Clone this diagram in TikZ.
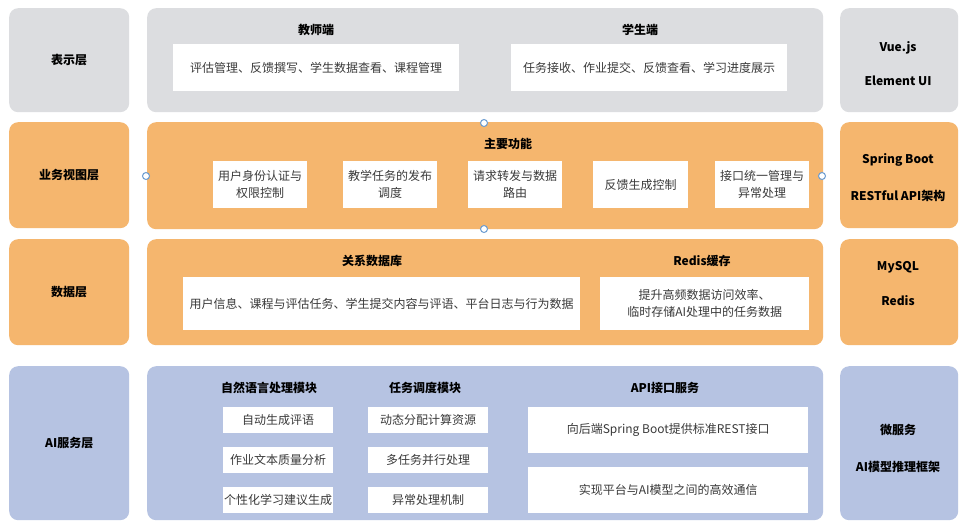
\documentclass[tikz,border=0pt]{standalone}
\usepackage{fontspec}
\setmainfont{Noto Sans CJK SC}
\definecolor{pgray}{HTML}{DCDDE0}
\definecolor{porange}{HTML}{F5B66E}
\definecolor{pblue}{HTML}{B6C3E2}
\definecolor{txt}{HTML}{3A3A3A}
\definecolor{hblue}{HTML}{6A9BD0}
\tikzset{
  panel/.style={rounded corners=9pt, inner sep=0pt, anchor=north west, align=center,
    font=\bfseries\fontsize{12}{16}\selectfont, text=black},
  sz/.style 2 args={minimum width=#1pt, minimum height=#2pt},
  wbox/.style={fill=white, inner sep=0pt, anchor=north west, align=center,
    font=\fontsize{12}{17}\selectfont, text=txt},
  ttl/.style={font=\bfseries\fontsize{12}{16}\selectfont, text=black, inner sep=0pt},
  handle/.style={circle, draw=hblue, fill=white, line width=1pt, inner sep=0pt, minimum size=7pt},
}
\begin{document}
\begin{tikzpicture}[x=1pt,y=-1pt]
\fill[white] (0,0) rectangle (963,522);
\useasboundingbox (0,0) rectangle (963,522);

% ---------- Row 1: presentation layer ----------
\node[panel, fill=pgray, sz={120}{104}] (l1) at (9,8) {表示层};
\node[panel, fill=pgray, sz={676}{104}] (m1) at (147,8) {};
\node[panel, fill=pgray, sz={118}{104}] (r1) at (840,8) {};
\node[ttl] (t1a) at (316,30) {教师端};
\node[ttl] (t1b) at (640,30) {学生端};
\node[wbox, sz={286}{47}] (b1a) at (173,44) {评估管理、反馈撰写、学生数据查看、课程管理};
\node[wbox, sz={276}{47}] (b1b) at (511,44) {任务接收、作业提交、反馈查看、学习进度展示};
\node[ttl] (r1a) at (898,48) {Vue.js};
\node[ttl] (r1b) at (898,81) {Element UI};

% ---------- Row 2: business view layer ----------
\node[panel, fill=porange, sz={120}{106}] (l2) at (9,122) {业务视图层};
\node[panel, fill=porange, sz={676}{107}] (m2) at (147,122) {};
\node[panel, fill=porange, sz={118}{106}] (r2) at (840,122) {};
\node[ttl] (t2) at (508,144) {主要功能};
\node[wbox, sz={94}{47}] (b2a) at (213,161) {用户身份认证与\\权限控制};
\node[wbox, sz={94}{47}] (b2b) at (343,161) {教学任务的发布\\调度};
\node[wbox, sz={94}{47}] (b2c) at (468,161) {请求转发与数据\\路由};
\node[wbox, sz={95}{47}] (b2d) at (593,161) {反馈生成控制};
\node[wbox, sz={94}{47}] (b2e) at (715,161) {接口统一管理与\\异常处理};
\node[ttl] (r2a) at (898,160) {Spring Boot};
\node[ttl] (r2b) at (898,196) {RESTful API架构};
\node[handle] (hT) at (484,123) {};
\node[handle] (hB) at (484,229) {};
\node[handle] (hL) at (146,176) {};
\node[handle] (hR) at (822,176) {};

% ---------- Row 3: data layer ----------
\node[panel, fill=porange, sz={120}{106}] (l3) at (9,239) {数据层};
\node[panel, fill=porange, sz={676}{106}] (m3) at (147,239) {};
\node[panel, fill=porange, sz={118}{106}] (r3) at (840,239) {};
\node[ttl] (t3a) at (372,261) {关系数据库};
\node[ttl] (t3b) at (702,261) {Redis缓存};
\node[wbox, sz={397}{53}] (b3a) at (183,277) {用户信息、课程与评估任务、学生提交内容与评语、平台日志与行为数据};
\node[wbox, sz={209}{53}] (b3b) at (600,277) {提升高频数据访问效率、\\临时存储AI处理中的任务数据};
\node[ttl] (r3a) at (898,267) {MySQL};
\node[ttl] (r3b) at (898,301) {Redis};

% ---------- Row 4: AI service layer ----------
\node[panel, fill=pblue, sz={120}{154}] (l4) at (9,366) {AI服务层};
\node[panel, fill=pblue, sz={676}{154}] (m4) at (147,366) {};
\node[panel, fill=pblue, sz={118}{154}] (r4) at (840,366) {};
\node[ttl] (t4a) at (269,388) {自然语言处理模块};
\node[ttl] (t4b) at (425,388) {任务调度模块};
\node[ttl] (t4c) at (665,388) {API接口服务};
\node[wbox, sz={110}{26}] (n1) at (223,407) {自动生成评语};
\node[wbox, sz={110}{26}] (n2) at (223,447) {作业文本质量分析};
\node[wbox, sz={110}{26}] (n3) at (223,487) {个性化学习建议生成};
\node[wbox, sz={120}{26}] (s1) at (368,407) {动态分配计算资源};
\node[wbox, sz={120}{26}] (s2) at (368,447) {多任务并行处理};
\node[wbox, sz={120}{26}] (s3) at (368,487) {异常处理机制};
\node[wbox, sz={280}{46}] (a1) at (528,407) {向后端Spring Boot提供标准REST接口};
\node[wbox, sz={280}{46}] (a2) at (528,467) {实现平台与AI模型之间的高效通信};
\node[ttl] (r4a) at (898,430) {微服务};
\node[ttl] (r4b) at (898,467) {AI模型推理框架};
\end{tikzpicture}
\end{document}
